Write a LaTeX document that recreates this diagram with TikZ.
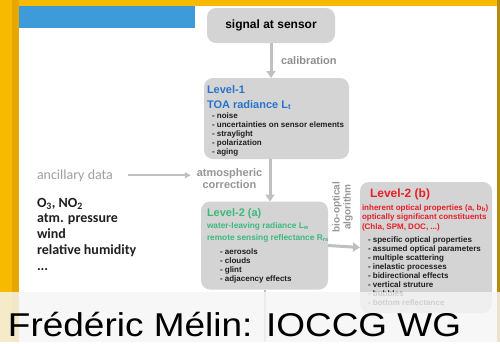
\documentclass[tikz,border=0pt]{standalone}
\usepackage{fontspec}
\setmainfont{Liberation Sans}
\newfontfamily\calibri{Carlito}
\usetikzlibrary{positioning,arrows.meta}

\definecolor{slidegold}{RGB}{247,186,0}
\definecolor{slidegolddark}{RGB}{230,168,0}
\definecolor{slideedge}{RGB}{184,138,16}
\definecolor{barblue}{RGB}{62,155,218}
\definecolor{boxgray}{RGB}{212,212,212}
\definecolor{arrowgray}{RGB}{192,192,192}
\definecolor{labelgray}{RGB}{150,150,150}
\definecolor{levelblue}{RGB}{40,115,205}
\definecolor{levelgreen}{RGB}{60,185,125}
\definecolor{levelred}{RGB}{232,30,40}
\definecolor{bandwhite}{RGB}{246,246,246}

\newcommand{\px}[2]{\fontsize{#1}{#2}\selectfont}

\begin{document}
\begin{tikzpicture}[x=1pt,y=-1pt,
  every node/.style={inner sep=0pt,outer sep=0pt},
  stage/.style={fill=boxgray,rounded corners=9pt},
  flow/.style={draw=arrowgray,line width=3pt,-{Triangle[length=7pt,width=9pt]}},
  thinflow/.style={draw=arrowgray,line width=1.6pt,-{Triangle[length=6pt,width=6pt]}},
  grey label/.style={text=labelgray,font=\bfseries\px{11}{12}},
  head/.style={anchor=base west,align=left,font=\bfseries\px{11}{15}},
  sub/.style={anchor=base west,align=left,font=\bfseries\px{8.3}{12}},
  items/.style={anchor=base west,align=left,text=black!88,font=\bfseries\px{8}{9}}]

% slide frame
\fill[slidegold] (0,0) rectangle (500,342);
\fill[slidegolddark] (12,0) rectangle (19,342);
\fill[slideedge] (497,0) rectangle (500,342);
\fill[white] (19,6) rectangle (497,342);
\fill[barblue] (19,6) rectangle (195,28);

% boxes
\node[stage,minimum width=128pt,minimum height=35pt,font=\bfseries\px{12}{14}] (sensor) at (271,25.5) {signal at sensor};
\node[stage,minimum width=145pt,minimum height=81pt] (level1) at (276.5,118.5) {};
\node[stage,minimum width=127pt,minimum height=88pt] (level2a) at (264.5,245.5) {};
\node[stage,minimum width=132pt,minimum height=131pt] (level2b) at (426,247.5) {};

% Level-1 (multi-line nodes sit on the baseline of their last line)
\node[head,text=levelblue] (l1head) at (207,108) {Level-1\\TOA radiance L\textsubscript{t}};
\node[items] (l1list) at (212,154.5) {- noise\\- uncertainties on sensor elements\\- straylight\\- polarization\\- aging};

% Level-2 (a)
\node[head,text=levelgreen] (l2ahead) at (207,216) {Level-2 (a)};
\node[sub,text=levelgreen] (l2asub) at (207,240) {water-leaving radiance L\textsubscript{w}\\remote sensing reflectance R\textsubscript{rs}};
\node[items] (l2alist) at (220,281.5) {- aerosols\\- clouds\\- glint\\- adjacency effects};

% Level-2 (b)
\node[head,text=levelred,font=\bfseries\px{12}{15}] (l2bhead) at (370,197.5) {Level-2 (b)};
\node[sub,text=levelred,font=\bfseries\px{8}{9.5}] (l2bsub) at (362,229) {inherent optical properties (a, b\textsubscript{b})\\optically significant constituents\\(Chla, SPM, DOC, ...)};
\node[items] (l2blist) at (368,305.5) {- specific optical properties\\- assumed optical parameters\\- multiple scattering\\- inelastic processes\\- bidirectional effects\\- vertical struture\\- bubbles\\- bottom reflectance};

% processing steps
\node[grey label,anchor=west,text=labelgray!95!black] (calib) at (281,61) {calibration};
\node[grey label,align=center] (atmcorr) at (229.5,179) {atmospheric\\correction};
\node[grey label,align=center,rotate=90,font=\bfseries\px{10}{11}] (bioopt) at (342.5,207) {bio-optical\\algorithm};

\draw[flow] (sensor.south) -- (sensor.south |- level1.north);
\draw[flow] ([xshift=-6.5pt]level1.south) -- ([xshift=-6.5pt]level1.south |- level2a.north);
\draw[flow] (level2a.east) -- (level2b.west);
\coordinate (offslide) at (264.5,342);
\draw[arrowgray,line width=2pt] (level2a.south) -- (offslide);

% ancillary inputs
\node[anchor=base west,text=labelgray!90,font=\calibri\px{14}{16}] (ancillary) at (37,179) {ancillary data};
\node[anchor=base west,align=left,text=black!88,font=\calibri\bfseries\px{14}{15.8}] (anclist) at (37,270.2) {O\textsubscript{3}, NO\textsubscript{2}\\atm. pressure\\wind\\relative humidity\\...};
\draw[thinflow,shorten <=15pt,shorten >=6pt] (ancillary.east) -- (ancillary.east -| atmcorr.west);

% caption band
\fill[bandwhite,opacity=0.82] (0,292) rectangle (500,342);
\node[anchor=base west,font=\px{33}{36}] (credit) at (8,336) {\scalebox{1.12}[1]{Frédéric Mélin: IOCCG WG}};

\useasboundingbox (0,0) rectangle (500,342);
\end{tikzpicture}
\end{document}
